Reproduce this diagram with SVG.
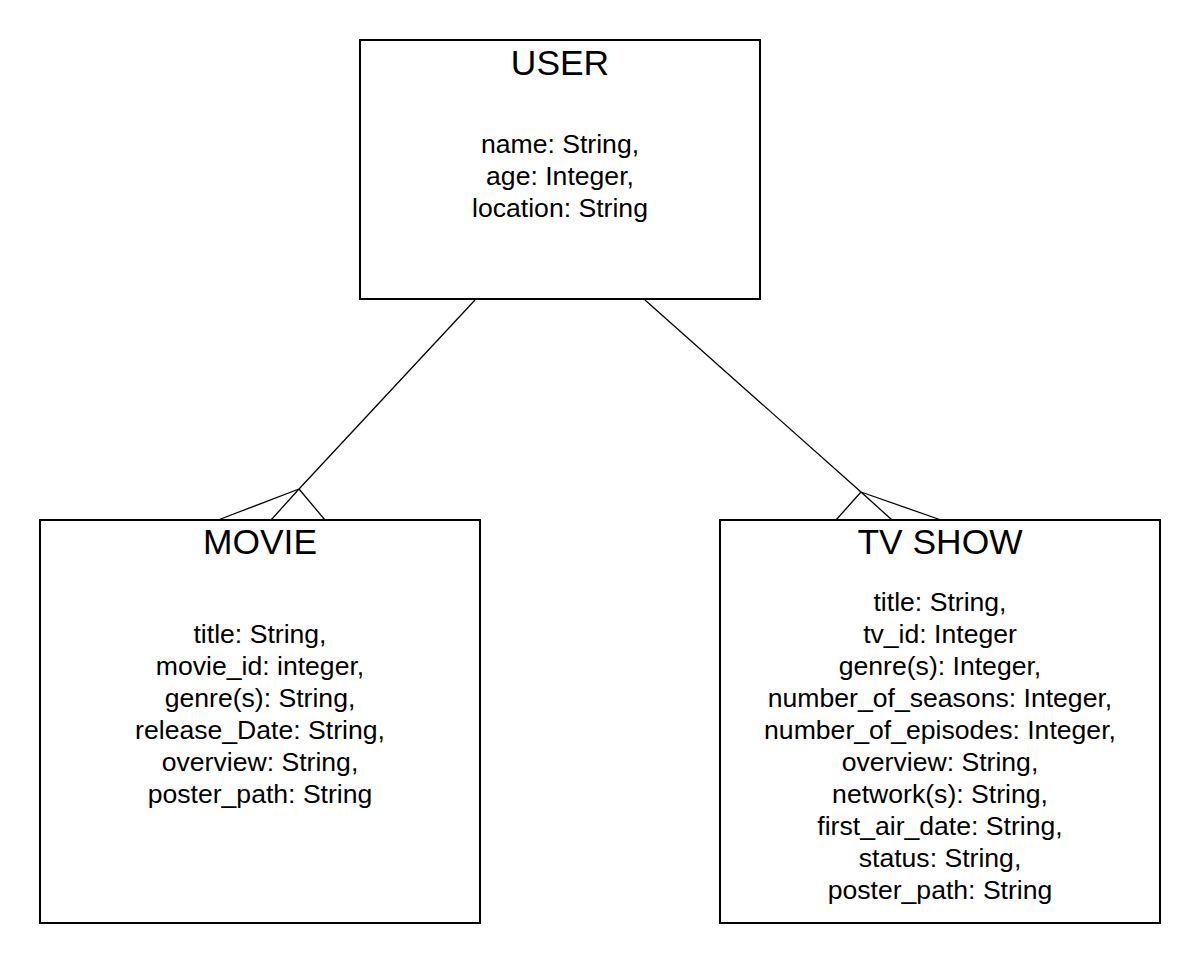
<svg xmlns="http://www.w3.org/2000/svg" width="1200" height="964" viewBox="0 0 1200 964">
<style>
.box{fill:#fff;stroke:#000;stroke-width:2}
.t{font-family:"Liberation Sans",Arial,sans-serif;font-size:35.4px;text-anchor:middle;fill:#000}
.a{font-family:"Liberation Sans",Arial,sans-serif;font-size:26.6px;text-anchor:middle;fill:#000}
.c{fill:none;stroke:#000;stroke-width:1.3}
</style>
<rect width="1200" height="964" fill="#fff"/>
<g id="connectors">
<path class="c" d="M475,300 L299,489 M218,520 L299,489 L271,520 M299,489 L325,520"/>
<path class="c" d="M645,300 L861,492 M836,520 L861,492 L892,520 M861,492 L941,520"/>
</g>
<g id="user">
<rect class="box" x="360" y="40" width="400" height="259"/>
<text class="t" x="560" y="75">USER</text>
<text class="a" x="560" y="153">name: String,</text>
<text class="a" x="560" y="185">age: Integer,</text>
<text class="a" x="560" y="217">location: String</text>
</g>
<g id="movie">
<rect class="box" x="40" y="520" width="440" height="403"/>
<text class="t" x="260" y="554">MOVIE</text>
<text class="a" x="260" y="643">title: String,</text>
<text class="a" x="260" y="675">movie_id: integer,</text>
<text class="a" x="260" y="707">genre(s): String,</text>
<text class="a" x="260" y="739">release_Date: String,</text>
<text class="a" x="260" y="771">overview: String,</text>
<text class="a" x="260" y="803">poster_path: String</text>
</g>
<g id="tvshow">
<rect class="box" x="720" y="520" width="440" height="403"/>
<text class="t" x="940" y="554">TV SHOW</text>
<text class="a" x="940" y="611">title: String,</text>
<text class="a" x="940" y="643">tv_id: Integer</text>
<text class="a" x="940" y="675">genre(s): Integer,</text>
<text class="a" x="940" y="707">number_of_seasons: Integer,</text>
<text class="a" x="940" y="739">number_of_episodes: Integer,</text>
<text class="a" x="940" y="771">overview: String,</text>
<text class="a" x="940" y="803">network(s): String,</text>
<text class="a" x="940" y="835">first_air_date: String,</text>
<text class="a" x="940" y="867">status: String,</text>
<text class="a" x="940" y="899">poster_path: String</text>
</g>
</svg>
